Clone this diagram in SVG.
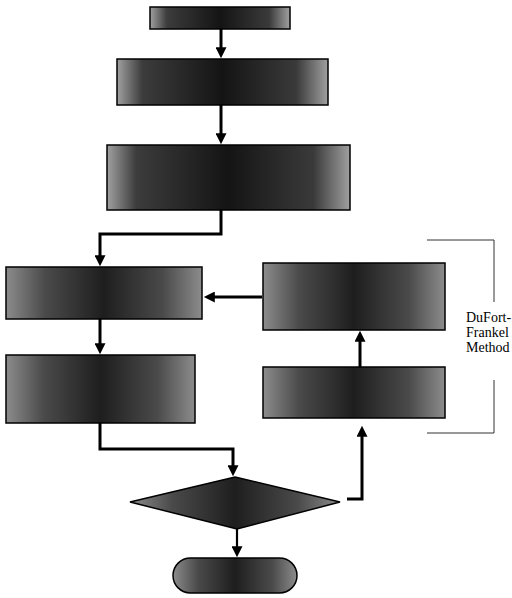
<svg xmlns="http://www.w3.org/2000/svg" width="512" height="598" viewBox="0 0 512 598">
  <style>
    .box { stroke: #000; stroke-width: 1.5; }
    .dark { fill: url(#shadeDark); }
    .mott { fill: url(#shadeMott); }
    .conn { fill: none; stroke: #000; stroke-width: 3; }
    .thin { stroke-width: 2.2; }
    .bracket { fill: none; stroke: #333; stroke-width: 1; }
    .lbl { font-family: "Liberation Serif", "Times New Roman", serif; font-size: 14px; fill: #000; }
  </style>
  <defs>
    <linearGradient id="shadeDark" x1="0" y1="0" x2="1" y2="0">
      <stop offset="0" stop-color="#a0a0a0"/>
      <stop offset="0.12" stop-color="#3c3c3c"/>
      <stop offset="0.5" stop-color="#141414"/>
      <stop offset="0.85" stop-color="#3a3a3a"/>
      <stop offset="1" stop-color="#a0a0a0"/>
    </linearGradient>
    <linearGradient id="shadeMott" x1="0" y1="0" x2="1" y2="0">
      <stop offset="0" stop-color="#8c8c8c"/>
      <stop offset="0.2" stop-color="#4a4a4a"/>
      <stop offset="0.5" stop-color="#1e1e1e"/>
      <stop offset="0.8" stop-color="#4a4a4a"/>
      <stop offset="1" stop-color="#8c8c8c"/>
    </linearGradient>
    <marker id="arrow" viewBox="0 0 12 12" refX="2" refY="6" markerWidth="12" markerHeight="11" markerUnits="userSpaceOnUse" orient="auto">
      <path d="M0,0 L12,6 L0,12 z" fill="#000"/>
    </marker>
  </defs>

  <g id="connectors">
    <line class="conn" x1="221" y1="29" x2="221" y2="49" marker-end="url(#arrow)"/>
    <line class="conn" x1="221" y1="105" x2="221" y2="135" marker-end="url(#arrow)"/>
    <polyline class="conn" points="221,210 221,234 100,234 100,257" marker-end="url(#arrow)"/>
    <line class="conn" x1="100" y1="319" x2="100" y2="345" marker-end="url(#arrow)"/>
    <polyline class="conn" points="100,423 100,449 233,449 233,467" marker-end="url(#arrow)"/>
    <line class="conn thin" x1="237" y1="529" x2="237" y2="548" marker-end="url(#arrow)"/>
    <line class="conn" x1="262" y1="297" x2="213" y2="297" marker-end="url(#arrow)"/>
    <line class="conn" x1="360" y1="367" x2="360" y2="340" marker-end="url(#arrow)"/>
    <polyline class="conn" points="347,499 362,499 362,435" marker-end="url(#arrow)"/>
  </g>

  <g id="start">
    <rect class="box dark" x="150" y="7" width="140" height="22"/>
  </g>
  <g id="step1">
    <rect class="box dark" x="117" y="59" width="211" height="46"/>
  </g>
  <g id="step2">
    <rect class="box dark" x="107" y="145" width="243" height="65"/>
  </g>
  <g id="step3">
    <rect class="box mott" x="6" y="267" width="196" height="52"/>
  </g>
  <g id="step4">
    <rect class="box mott" x="6" y="355" width="189" height="68"/>
  </g>
  <g id="step6">
    <rect class="box mott" x="263" y="263" width="182" height="67"/>
  </g>
  <g id="step5">
    <rect class="box mott" x="263" y="367" width="182" height="51"/>
  </g>
  <g id="decision">
    <polygon class="box mott" points="235,477 340,502 237,529 130,502"/>
  </g>
  <g id="end">
    <rect class="box mott" x="173" y="558" width="124" height="35" rx="17.5" ry="17.5"/>
  </g>

  <g id="dufort-bracket">
    <path class="bracket" d="M427,240 H494 V302 M494,380 V433 H427"/>
    <text class="lbl" x="466" y="322">DuFort-</text>
    <text class="lbl" x="466" y="337">Frankel</text>
    <text class="lbl" x="466" y="352">Method</text>
  </g>
</svg>
